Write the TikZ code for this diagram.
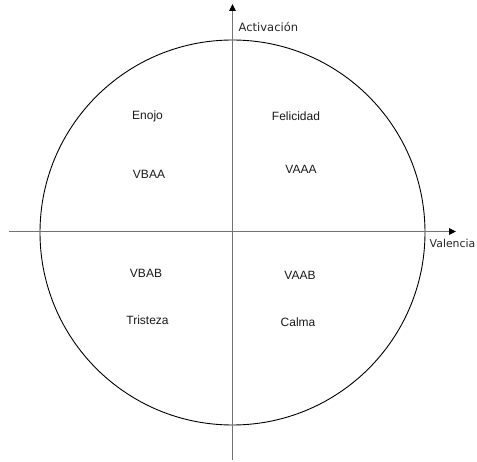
\documentclass[tikz,border=0pt]{standalone}
\usepackage{fontspec}
\setmainfont{Liberation Sans}
\newfontfamily\axisfont{DejaVu Sans}
\usetikzlibrary{arrows.meta}
\begin{document}
\begin{tikzpicture}[x=1pt,y=-1pt,
  axis/.style={draw=black!55,line width=0.9pt,-{Triangle[length=7pt,width=6.5pt,color=black]}},
  quad/.style={anchor=base,font=\fontsize{12}{14}\selectfont,text=black!90},
  axlabel/.style={anchor=base west,inner sep=0pt,text=black!85}]
  \useasboundingbox (0,0) rectangle (477,462);
  % circumplex circle
  \node[draw=black,line width=0.9pt,circle,minimum size=385pt,inner sep=0pt] (circ) at (232.5,232.5) {};
  % axes
  \coordinate (xl) at (9,231.5);
  \coordinate (xr) at (456,231.5);
  \coordinate (yb) at (232.5,460);
  \coordinate (yt) at (232.5,4);
  \draw[axis] (xl) -- (xr);
  \draw[axis] (yb) -- (yt);
  \node[axlabel,font=\axisfont\fontsize{11.5}{13}\selectfont] (act) at (238.5,32) {Activación};
  \node[axlabel,font=\axisfont\fontsize{10.9}{13}\selectfont] (val) at (429.5,247.5) {Valencia};
  % quadrant labels
  \node[quad] (enojo) at (147.5,120) {Enojo};
  \node[quad] (vbaa) at (149,179) {VBAA};
  \node[quad] (feli) at (296,121) {Felicidad};
  \node[quad] (vaaa) at (301,174) {VAAA};
  \node[quad] (vbab) at (146,278) {VBAB};
  \node[quad] (vaab) at (300,280) {VAAB};
  \node[quad] (tris) at (147.5,325) {Tristeza};
  \node[quad] (calma) at (298,327) {Calma};
\end{tikzpicture}
\end{document}
